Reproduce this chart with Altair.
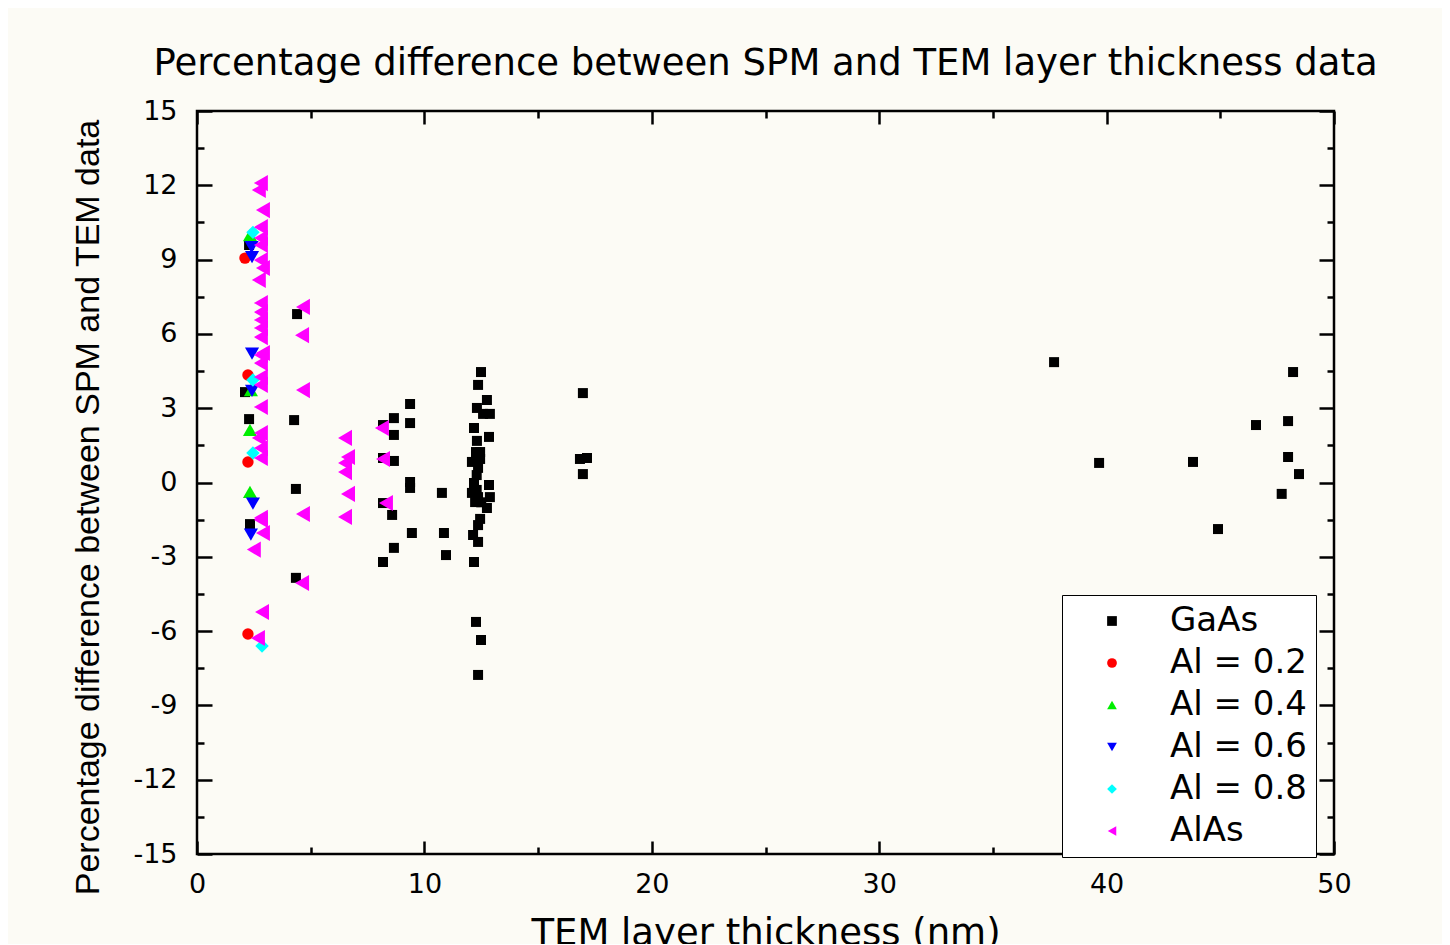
import altair as alt
import pandas as pd

series_names = ["GaAs", "Al = 0.2", "Al = 0.4", "Al = 0.6", "Al = 0.8", "AlAs"]
series_colors = ["#000000", "#ff0000", "#00ee00", "#0000ff", "#00ffff", "#ff00ff"]
series_shapes = ["square", "circle", "triangle-up", "triangle-down", "diamond", "triangle-left"]
series_sizes = [100, 130, 200, 200, 180, 260]

gaas_x = [2.29, 2.11, 2.29, 2.33,
          4.40, 4.27, 4.35, 4.35,
          9.37, 8.66, 9.37, 8.18, 8.66, 8.18, 8.66, 9.37, 9.37, 8.18, 8.58, 9.45, 8.66, 8.18,
          10.77, 10.86, 10.95,
          12.49, 12.36, 12.75, 12.31, 12.88, 12.58, 12.18, 12.84, 12.31, 12.45, 12.27, 12.09,
          12.36, 12.45, 12.30, 12.18, 12.84, 12.09, 12.36, 12.88, 12.23, 12.30, 12.50, 12.75,
          12.45, 12.36, 12.14, 12.36, 12.18, 12.27, 12.49, 12.36,
          16.97, 16.84, 17.15, 16.97,
          37.69, 48.20, 46.57, 47.98, 39.67, 43.80, 47.98, 48.46, 47.70, 44.90]
gaas_y = [9.59, 3.65, 2.56, -1.68,
          6.80, 2.52, -0.26, -3.85,
          3.17, 2.60, 2.40, 2.32, 1.92, 0.99, 0.87, 0.02, -0.22, -0.83, -1.31, -2.04, -2.64, -3.21,
          -0.42, -2.04, -2.93,
          4.46, 3.94, 3.33, 3.01, 2.77, 2.77, 2.20, 1.84, 1.68, 1.23, 1.23, 0.83,
          0.59, 0.95, 0.30, -0.02, -0.10, -0.42, -0.59, -0.59, -0.79, -0.30, -0.80, -1.03,
          -1.47, -1.72, -2.12, -2.40, -3.21, -5.63, -6.36, -7.77,
          3.61, 0.95, 0.99, 0.34,
          4.86, 4.46, 2.32, 2.48, 0.79, 0.83, 1.03, 0.34, -0.46, -1.88]

al02_x = [2.11, 2.24, 2.24, 2.24]
al02_y = [9.06, 4.34, 0.83, -6.12]

al04_x = [2.33, 2.37, 2.33, 2.33]
al04_y = [9.99, 3.73, 2.12, -0.38]

al06_x = [2.40, 2.42, 2.42, 2.42, 2.46, 2.37]
al06_y = [9.50, 9.10, 5.20, 3.70, -0.85, -2.10]

al08_x = [2.46, 2.46, 2.46, 2.86]
al08_y = [10.10, 4.14, 1.19, -6.60]

alas_x = [2.81, 2.72, 2.90, 2.81, 2.81, 2.81, 2.81, 2.90, 2.72, 2.81, 2.81, 2.81, 2.81, 2.81,
          2.90, 2.81, 2.81, 2.81, 2.81, 2.81, 2.81, 2.72, 2.81, 2.81, 2.81, 2.81, 2.90, 2.50,
          2.86, 2.68,
          4.66, 4.62, 4.66, 4.66, 4.62,
          6.51, 6.64, 6.51, 6.51, 6.64, 6.51,
          8.13, 8.18, 8.31]
alas_y = [12.09, 11.81, 11.00, 10.31, 9.87, 9.59, 8.98, 8.66, 8.18, 7.25, 6.88, 6.56, 6.24, 5.87,
          5.23, 5.15, 4.82, 4.26, 3.94, 3.05, 2.00, 1.80, 1.39, 0.99, -1.51, -1.43, -2.04, -2.71,
          -5.23, -6.28,
          7.09, 5.95, 3.73, -1.27, -4.06,
          1.80, 1.03, 0.79, 0.42, -0.46, -1.39,
          2.20, 0.95, -0.83]

x_ticks = [0, 5, 10, 15, 20, 25, 30, 35, 40, 45, 50]
y_ticks = [-15, -13.5, -12, -10.5, -9, -7.5, -6, -4.5, -3, -1.5, 0, 1.5, 3, 4.5,
           6, 7.5, 9, 10.5, 12, 13.5, 15]

groups = [(series_names[0], gaas_x, gaas_y), (series_names[1], al02_x, al02_y),
          (series_names[2], al04_x, al04_y), (series_names[3], al06_x, al06_y),
          (series_names[4], al08_x, al08_y), (series_names[5], alas_x, alas_y)]
rows = []
for name, xs, ys in groups:
    for a, b in zip(xs, ys):
        rows.append({"series": name, "x": a, "y": b})
df = pd.DataFrame(rows)

xscale = alt.Scale(domain=[0, 50], nice=False, zero=False)
yscale = alt.Scale(domain=[-15, 15], nice=False, zero=False)

x_tick_size = {"condition": {"test": "datum.value % 10 === 0", "value": -13}, "value": -7}
y_tick_size = {"condition": {"test": "datum.value % 3 === 0", "value": -15}, "value": -7}

common = dict(domain=False, grid=False, tickColor="black", tickWidth=2.5,
              labelColor="black", labelFont="DejaVu Sans", labelFontSize=27,
              labelOverlap=False, labelFlush=False)

x_axis = alt.Axis(values=x_ticks, tickSize=x_tick_size,
                  labelExpr="datum.value % 10 === 0 ? '' + datum.value : ''",
                  labelPadding=30,
                  title="TEM layer thickness (nm)", titleFont="DejaVu Sans",
                  titleFontSize=37, titleFontWeight="normal", titleColor="black",
                  titleY=90, titleBaseline="alphabetic", **common)
y_axis = alt.Axis(values=y_ticks, tickSize=y_tick_size,
                  labelExpr="datum.value % 3 === 0 ? '' + datum.value : ''",
                  labelPadding=35,
                  title="Percentage difference between SPM and TEM data",
                  titleFont="Liberation Sans", titleFontSize=34, titleFontWeight="normal",
                  titleColor="black", titleAngle=270, titleX=-99, titleY=396,
                  titleAlign="center", titleBaseline="alphabetic", **common)

x_axis_top = alt.Axis(orient="top", values=x_ticks, tickSize=x_tick_size, labels=False,
                      title=None, domain=False, grid=False, tickColor="black", tickWidth=2.5)
y_axis_right = alt.Axis(orient="right", values=y_ticks, tickSize=y_tick_size, labels=False,
                        title=None, domain=False, grid=False, tickColor="black", tickWidth=2.5)

legend = alt.Legend(orient="none", legendX=865, legendY=484, title=None,
                    strokeColor="black", fillColor="#ffffff", padding=9,
                    rowPadding=8, symbolSize=95, symbolOffset=24, labelOffset=41,
                    labelFont="DejaVu Sans", labelFontSize=34, labelColor="black",
                    symbolStrokeWidth=0)

size_enc = {
    "condition": [{"test": f"datum.series === '{n}'", "value": s}
                  for n, s in zip(series_names[1:], series_sizes[1:])],
    "value": series_sizes[0],
}

points = alt.Chart(df).mark_point(filled=True, opacity=1, strokeWidth=0).encode(
    x=alt.X("x:Q", scale=xscale, axis=x_axis),
    y=alt.Y("y:Q", scale=yscale, axis=y_axis),
    color=alt.Color("series:N", scale=alt.Scale(domain=series_names, range=series_colors),
                    legend=legend),
    shape=alt.Shape("series:N", scale=alt.Scale(domain=series_names, range=series_shapes),
                    legend=legend),
    size=size_enc,
)

mirror = alt.Chart(df).mark_point(opacity=0).encode(
    x=alt.X("x:Q", scale=xscale, axis=x_axis_top),
    y=alt.Y("y:Q", scale=yscale, axis=y_axis_right),
)

chart = alt.layer(points, mirror).resolve_scale(x="independent", y="independent").properties(
    width=1137, height=743,
    title=alt.Title("Percentage difference between SPM and TEM layer thickness data",
                    font="DejaVu Sans", fontSize=37, fontWeight="normal", color="black",
                    anchor="middle", offset=37, dy=52, baseline="alphabetic"),
    padding={"left": 189, "top": 103, "right": 108, "bottom": 90},
    autosize=alt.AutoSizeParams(type="none"),
).configure(background="#fcfbf5").configure_view(stroke="black", strokeWidth=2.5)

chart.save("out.html", embed_options={"renderer": "svg", "actions": False})
